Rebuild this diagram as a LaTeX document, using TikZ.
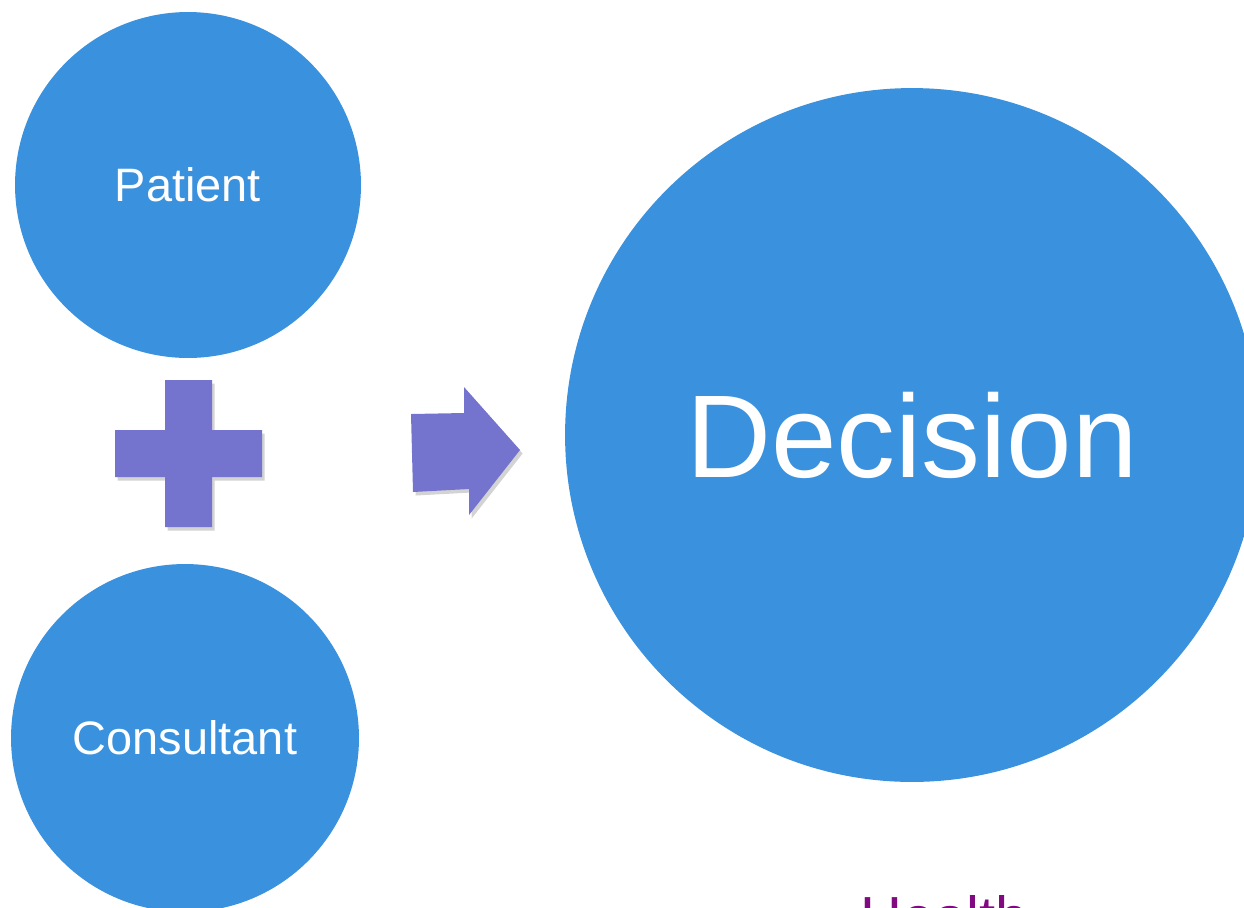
\documentclass[tikz,border=0pt]{standalone}
\usepackage{fontspec}
\setmainfont{Liberation Sans}
\usetikzlibrary{shadows}
\definecolor{discblue}{HTML}{3A91DD}
\definecolor{signviolet}{HTML}{7474CF}
\definecolor{plum}{HTML}{800A80}

\begin{document}
\begin{tikzpicture}[x=0.02cm, y=-0.02cm,
                  disc/.style={circle, fill=discblue, text=white, inner sep=0pt},
                  sign/.style={fill=signviolet, drop shadow={shadow xshift=1.5pt, shadow yshift=-2pt, opacity=0.35}}]

    \useasboundingbox (0,0) rectangle (1244,907); % page in pixels, y downwards
    \clip (0,0) rectangle (1244,907);

    % the three discs
    \node [disc, minimum size=6.92cm, font=\fontsize{26.7}{30}\selectfont] (patient) at (188,185) {Patient};
    \node [disc, minimum size=6.96cm, font=\fontsize{26.7}{30}\selectfont] (consultant) at (185,738) {Consultant};
    \node [disc, minimum size=13.88cm, font=\fontsize{67}{70}\selectfont] (decision) at (912,435) {Decision};

    % plus sign between the two small discs
    \path [sign] (165,380) -- (212,380) -- (212,430) -- (262,430) -- (262,477) -- (212,477)
                 -- (212,527) -- (165,527) -- (165,477) -- (115,477) -- (115,430) -- (165,430) -- cycle;

    % block arrow towards the decision
    \path [sign] (411,414) -- (464,413) -- (464,387) -- (520,450) -- (469,515) -- (469,489)
                 -- (413,492) -- cycle;

    % caption below, cut by the page edge
    \node [anchor=base west, text=plum, inner sep=0pt, font=\fontsize{33}{36}\selectfont] (health) at (860,937) {Health};

\end{tikzpicture}
\end{document}
